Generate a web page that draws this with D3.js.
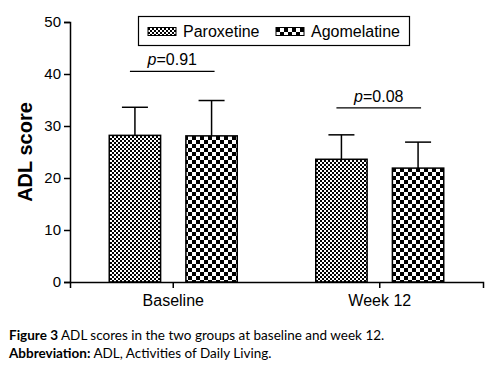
<!DOCTYPE html>
<html>
<head>
<meta charset="utf-8">
<script src="https://cdn.jsdelivr.net/npm/d3@7"></script>
<style>
  body { margin: 0; background: #fff; }
  svg text { font-family: "Liberation Sans", Arial, sans-serif; }
</style>
</head>
<body>
<div id="chart"></div>
<script>
// chart data
const categories = ["Baseline", "Week 12"];
const series = ["Paroxetine", "Agomelatine"];
const means = { Paroxetine: [28.2, 23.6], Agomelatine: [28.1, 21.9] };
const errTop = { Paroxetine: [33.6, 28.3], Agomelatine: [34.9, 26.9] };
const pLabels = ["0.91", "0.08"];
const pLevels = [40.5, 33.5];
const yTicks = [0, 10, 20, 30, 40, 50];

const width = 489, height = 366;
const margin = { top: 22, right: 6, bottom: 84, left: 70 };

const svg = d3.select("#chart").append("svg")
  .attr("width", width)
  .attr("height", height);

// fill patterns (checkerboards)
const defs = svg.append("defs");
function checker(id, cell) {
  const p = defs.append("pattern")
    .attr("id", id)
    .attr("patternUnits", "userSpaceOnUse")
    .attr("width", cell * 2)
    .attr("height", cell * 2);
  p.append("rect").attr("width", cell * 2).attr("height", cell * 2).attr("fill", "#fff");
  p.append("rect").attr("width", cell).attr("height", cell).attr("fill", "#000");
  p.append("rect").attr("x", cell).attr("y", cell).attr("width", cell).attr("height", cell).attr("fill", "#000");
}
checker("pat-par", 2);
checker("pat-ago", 4);
const fills = { Paroxetine: "url(#pat-par)", Agomelatine: "url(#pat-ago)" };

const x0 = d3.scaleBand()
  .domain(categories)
  .range([margin.left, width - margin.right]);

const x1 = d3.scaleBand()
  .domain(series)
  .range([-64, 64])
  .paddingInner(0.33);

const y = d3.scaleLinear()
  .domain([0, 50])
  .range([height - margin.bottom, margin.top]);

// bars
const rows = [];
categories.forEach((c, i) => {
  series.forEach(s => rows.push({ cat: c, s, v: means[s][i], e: errTop[s][i] }));
});

const cx = d => x0(d.cat) + x0.bandwidth() / 2 + x1(d.s);

// error bars
svg.append("g").selectAll("g")
  .data(rows)
  .join("g")
  .each(function(d) {
    const g = d3.select(this);
    const mid = cx(d) + x1.bandwidth() / 2;
    g.append("line")
      .attr("x1", mid).attr("x2", mid)
      .attr("y1", y(d.v)).attr("y2", y(d.e))
      .attr("stroke", "#000").attr("stroke-width", 1.5);
    g.append("line")
      .attr("x1", mid - 13).attr("x2", mid + 13)
      .attr("y1", y(d.e)).attr("y2", y(d.e))
      .attr("stroke", "#000").attr("stroke-width", 1.5);
  });

svg.append("g").selectAll("rect")
  .data(rows)
  .join("rect")
  .attr("x", d => cx(d))
  .attr("y", d => y(d.v))
  .attr("width", x1.bandwidth())
  .attr("height", d => y(0) - y(d.v))
  .attr("fill", d => fills[d.s])
  .attr("stroke", "#000")
  .attr("stroke-width", 1.5);

// y axis
const yAxis = svg.append("g")
  .attr("transform", `translate(${margin.left},0)`)
  .call(d3.axisLeft(y).tickValues(yTicks).tickSize(6).tickPadding(3));
yAxis.selectAll("text").style("font-size", "15px").attr("fill", "#000");
yAxis.selectAll("line, path").attr("stroke", "#000").attr("stroke-width", 1.5);

// x axis
const xAxis = svg.append("g")
  .attr("transform", `translate(0,${y(0)})`)
  .call(d3.axisBottom(x0).tickSizeOuter(0).tickSize(6).tickPadding(7));
xAxis.selectAll("text").style("font-size", "16px").attr("fill", "#000");
xAxis.selectAll("line, path").attr("stroke", "#000").attr("stroke-width", 1.5);

// y label
svg.append("text")
  .attr("transform", `translate(32,${(y(0) + y(50)) / 2}) rotate(-90)`)
  .attr("text-anchor", "middle")
  .style("font-size", "20px")
  .style("font-weight", "bold")
  .text("ADL score");

// p-value brackets
categories.forEach((c, i) => {
  const mid = x0(c) + x0.bandwidth() / 2;
  const a = mid + x1(series[0]) + x1.bandwidth() / 2 - 5;
  const b = mid + x1(series[1]) + x1.bandwidth() / 2 + 3;
  svg.append("line")
    .attr("x1", a).attr("x2", b)
    .attr("y1", y(pLevels[i])).attr("y2", y(pLevels[i]))
    .attr("stroke", "#000").attr("stroke-width", 1.2);
  const t = svg.append("text")
    .attr("x", (a + b) / 2)
    .attr("y", y(pLevels[i]) - 6)
    .attr("text-anchor", "middle")
    .style("font-size", "16px");
  t.append("tspan").style("font-style", "italic").text("p");
  t.append("tspan").text("=" + pLabels[i]);
});

// legend
const legend = svg.append("g");
legend.append("rect")
  .attr("x", 138.5).attr("y", 16.5)
  .attr("width", 271).attr("height", 29)
  .attr("fill", "#fff").attr("stroke", "#000").attr("stroke-width", 1.2);
const legX = [148, 276];
series.forEach((s, i) => {
  legend.append("rect")
    .attr("x", legX[i]).attr("y", 27.5)
    .attr("width", 28).attr("height", 8)
    .attr("fill", fills[s]).attr("stroke", "#000").attr("stroke-width", 1);
  legend.append("text")
    .attr("x", legX[i] + 35).attr("y", 37)
    .style("font-size", "16px")
    .text(s);
});

// caption
const cap = svg.append("g");
const l1 = cap.append("text").attr("x", 9).attr("y", 340).style("font-size", "13.5px");
l1.append("tspan").style("font-weight", "bold").style("font-family", "Lato, sans-serif").text("Figure 3");
l1.append("tspan").style("font-family", "Lato, sans-serif").text(" ADL scores in the two groups at baseline and week 12.");
const l2 = cap.append("text").attr("x", 9).attr("y", 358).style("font-size", "13.5px");
l2.append("tspan").style("font-weight", "bold").style("font-family", "Lato, sans-serif").text("Abbreviation:");
l2.append("tspan").style("font-family", "Lato, sans-serif").text(" ADL, Activities of Daily Living.");
</script>
</body>
</html>
